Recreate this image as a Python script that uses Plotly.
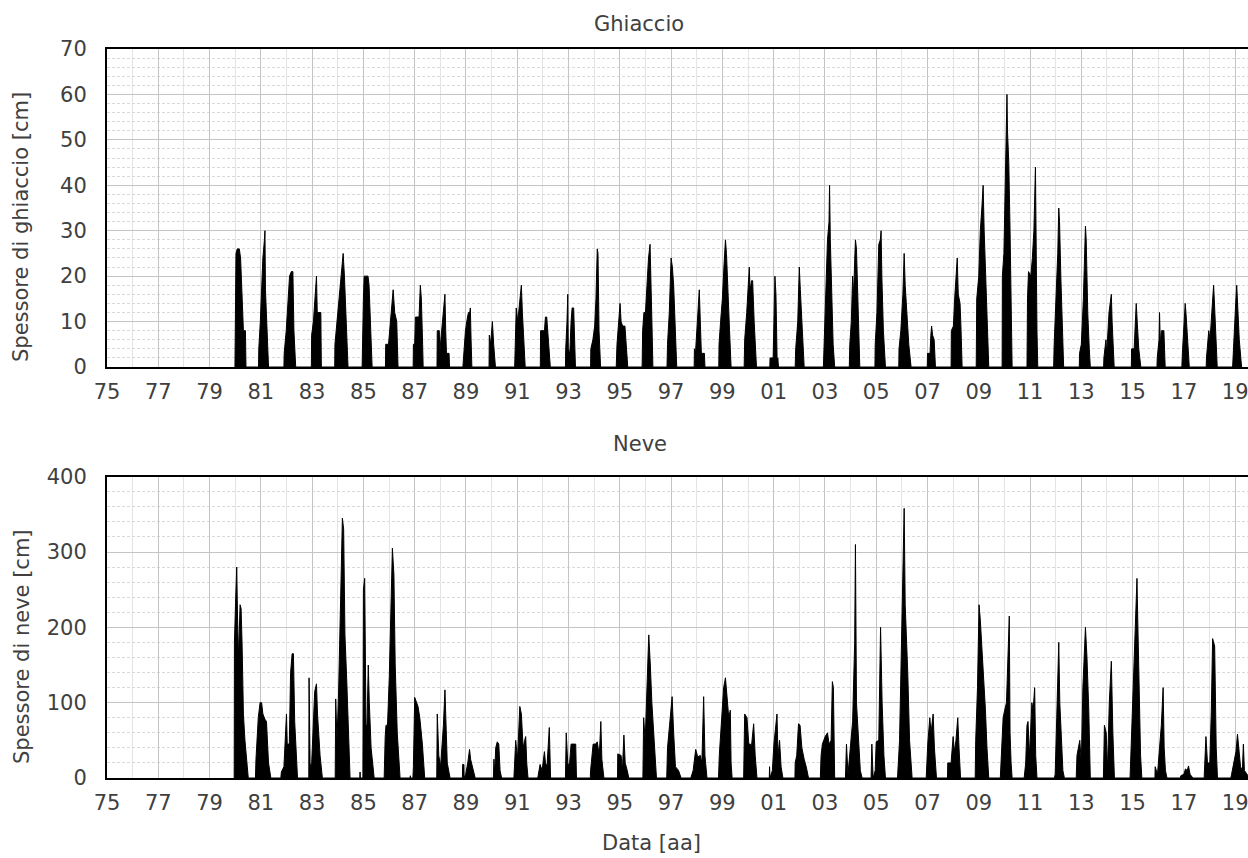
import plotly.graph_objects as go

# ---------------- data (decimal years, cm) ----------------
year_ticks = [1975, 1977, 1979, 1981, 1983, 1985, 1987, 1989, 1991, 1993, 1995, 1997,
              1999, 2001, 2003, 2005, 2007, 2009, 2011, 2013, 2015, 2017, 2019]
year_labels = ["75", "77", "79", "81", "83", "85", "87", "89", "91", "93", "95", "97",
               "99", "01", "03", "05", "07", "09", "11", "13", "15", "17", "19"]

ice_x = [
    1979.99, 1980.00, 1980.03, 1980.08, 1980.16, 1980.21, 1980.25, 1980.32, 1980.40, 1980.42,
    1980.91, 1980.92, 1980.98, 1981.02, 1981.08, 1981.14, 1981.16, 1981.18, 1981.22, 1981.30,
    1981.90, 1981.91, 1981.99, 1982.06, 1982.12, 1982.19, 1982.25, 1982.29, 1982.36,
    1982.97, 1982.98, 1983.05, 1983.13, 1983.17, 1983.20, 1983.34, 1983.36,
    1983.88, 1983.89, 1983.97, 1984.07, 1984.14, 1984.21, 1984.26, 1984.31, 1984.37, 1984.40,
    1984.95, 1984.96, 1985.00, 1985.03, 1985.18, 1985.22, 1985.30, 1985.34,
    1985.86, 1985.87, 1985.98, 1986.05, 1986.12, 1986.16, 1986.22, 1986.30, 1986.35,
    1986.94, 1986.95, 1987.00, 1987.03, 1987.17, 1987.22, 1987.26, 1987.31, 1987.33,
    1987.87, 1987.88, 1987.96, 1987.98, 1988.02, 1988.10, 1988.18, 1988.21, 1988.24, 1988.34, 1988.36,
    1988.88, 1988.92, 1988.98, 1989.06, 1989.10, 1989.15, 1989.17, 1989.20, 1989.23,
    1989.90, 1989.91, 1989.96, 1990.03, 1990.08, 1990.15,
    1990.90, 1990.92, 1990.96, 1991.02, 1991.10, 1991.16, 1991.20, 1991.26, 1991.31,
    1991.90, 1991.91, 1992.06, 1992.10, 1992.15, 1992.22, 1992.29,
    1992.88, 1992.89, 1992.94, 1992.97, 1992.99, 1993.05, 1993.10, 1993.14, 1993.20, 1993.24, 1993.27,
    1993.86, 1993.87, 1993.95, 1994.02, 1994.07, 1994.12, 1994.15, 1994.19, 1994.25,
    1994.86, 1994.89, 1994.96, 1995.01, 1995.05, 1995.11, 1995.20, 1995.26, 1995.31,
    1995.87, 1995.89, 1995.94, 1996.00, 1996.06, 1996.12, 1996.18, 1996.22, 1996.26, 1996.29,
    1996.84, 1996.86, 1996.93, 1997.00, 1997.05, 1997.10, 1997.17, 1997.22,
    1997.90, 1997.91, 1997.95, 1998.02, 1998.10, 1998.14, 1998.18, 1998.30, 1998.32,
    1998.86, 1998.87, 1998.93, 1999.00, 1999.06, 1999.12, 1999.16, 1999.22, 1999.28, 1999.34,
    1999.85, 1999.87, 1999.95, 2000.05, 2000.08, 2000.14, 2000.18, 2000.24, 2000.33,
    2000.85, 2000.86, 2000.98, 2001.00, 2001.05, 2001.09, 2001.12, 2001.14, 2001.16, 2001.19,
    2001.84, 2001.86, 2001.94, 2002.00, 2002.04, 2002.10, 2002.19,
    2002.94, 2002.96, 2003.02, 2003.10, 2003.16, 2003.18, 2003.21, 2003.26, 2003.32, 2003.38,
    2003.95, 2003.97, 2004.03, 2004.08, 2004.12, 2004.17, 2004.19, 2004.23, 2004.28, 2004.32, 2004.36,
    2004.95, 2004.96, 2005.03, 2005.10, 2005.16, 2005.19, 2005.22, 2005.28, 2005.36,
    2005.88, 2005.89, 2005.96, 2006.04, 2006.09, 2006.13, 2006.19, 2006.27, 2006.36,
    2006.99, 2007.00, 2007.10, 2007.13, 2007.16, 2007.20, 2007.26, 2007.31,
    2007.92, 2007.93, 2008.01, 2008.06, 2008.13, 2008.16, 2008.20, 2008.27, 2008.31, 2008.35,
    2008.90, 2008.92, 2009.00, 2009.06, 2009.12, 2009.17, 2009.21, 2009.27, 2009.33, 2009.39,
    2009.91, 2009.92, 2009.98, 2010.05, 2010.10, 2010.12, 2010.17, 2010.22, 2010.27, 2010.30,
    2010.88, 2010.90, 2010.94, 2011.03, 2011.09, 2011.15, 2011.21, 2011.24, 2011.27, 2011.30,
    2011.92, 2011.94, 2012.02, 2012.08, 2012.12, 2012.15, 2012.20, 2012.26, 2012.31,
    2012.92, 2012.93, 2013.00, 2013.08, 2013.13, 2013.16, 2013.19, 2013.25, 2013.31, 2013.35,
    2013.87, 2013.88, 2013.96, 2013.99, 2014.08, 2014.17, 2014.20, 2014.25, 2014.28,
    2014.95, 2014.96, 2015.06, 2015.10, 2015.14, 2015.18, 2015.24, 2015.32,
    2015.95, 2015.96, 2016.03, 2016.05, 2016.08, 2016.12, 2016.22, 2016.27,
    2016.92, 2016.94, 2017.00, 2017.05, 2017.08, 2017.14, 2017.21,
    2017.87, 2017.88, 2017.97, 2018.02, 2018.10, 2018.16, 2018.20, 2018.26, 2018.30,
    2018.90, 2018.92, 2018.97, 2019.02, 2019.06, 2019.10, 2019.16, 2019.25,
]
ice_y = [
    0, 8, 25, 26, 26, 24, 18, 8, 8, 0,
    0, 4, 10, 17, 24, 28, 30, 17, 12, 0,
    0, 3, 8, 16, 20, 21, 21, 8, 0,
    0, 7, 10, 16, 20, 12, 12, 0,
    0, 5, 10, 15, 20, 25, 20, 12, 5, 0,
    0, 5, 15, 20, 20, 18, 8, 0,
    0, 5, 5, 10, 15, 17, 12, 10, 0,
    0, 5, 5, 11, 11, 18, 15, 5, 0,
    0, 8, 8, 3, 6, 12, 16, 8, 3, 3, 0,
    0, 4, 8, 11, 12, 12, 13, 6, 0,
    0, 7, 5, 10, 5, 0,
    0, 5, 13, 10, 15, 18, 12, 5, 0,
    0, 8, 8, 11, 11, 6, 0,
    0, 4, 10, 16, 4, 3, 10, 13, 13, 2, 0,
    0, 4, 6, 9, 15, 26, 25, 8, 0,
    0, 5, 10, 14, 10, 9, 9, 4, 0,
    0, 8, 12, 12, 18, 24, 27, 20, 8, 0,
    0, 5, 12, 24, 22, 18, 8, 0,
    0, 4, 3, 10, 17, 10, 3, 3, 0,
    0, 5, 10, 15, 22, 28, 25, 15, 8, 0,
    0, 6, 12, 22, 17, 19, 19, 10, 0,
    0, 2, 2, 10, 20, 16, 5, 0, 2, 0,
    0, 4, 10, 22, 17, 10, 0,
    0, 3, 15, 28, 32, 40, 28, 15, 5, 0,
    0, 5, 10, 20, 16, 25, 28, 26, 15, 6, 0,
    0, 5, 12, 27, 28, 30, 20, 8, 0,
    0, 4, 8, 16, 25, 18, 12, 5, 0,
    0, 3, 3, 7, 9, 7, 6, 0,
    0, 8, 9, 15, 22, 24, 16, 14, 8, 0,
    0, 15, 20, 30, 35, 40, 30, 20, 10, 0,
    0, 20, 25, 45, 60, 52, 45, 30, 12, 0,
    0, 15, 21, 20, 24, 30, 44, 20, 8, 0,
    0, 5, 15, 25, 35, 32, 20, 10, 0,
    0, 3, 5, 15, 25, 31, 28, 12, 4, 0,
    0, 2, 6, 3, 12, 16, 10, 4, 0,
    0, 4, 4, 10, 14, 10, 4, 0,
    0, 2, 6, 12, 5, 8, 8, 0,
    0, 3, 8, 14, 12, 5, 0,
    0, 2, 8, 6, 13, 18, 13, 5, 0,
    0, 3, 8, 14, 18, 14, 6, 0,
]

snow_x = [
    1979.96, 1979.97, 1980.02, 1980.06, 1980.09, 1980.13, 1980.19, 1980.23, 1980.27, 1980.32, 1980.38, 1980.45, 1980.51,
    1980.79, 1980.81, 1980.90, 1980.97, 1981.03, 1981.08, 1981.16, 1981.22, 1981.30, 1981.39,
    1981.78, 1981.80, 1981.90, 1982.00, 1982.03, 1982.11, 1982.16, 1982.22, 1982.27, 1982.32, 1982.43,
    1982.82, 1982.87, 1982.88, 1982.92, 1982.97, 1983.10, 1983.17, 1983.21, 1983.31, 1983.40,
    1983.90, 1983.92, 1983.97, 1984.03, 1984.11, 1984.18, 1984.23, 1984.28, 1984.35, 1984.42, 1984.48,
    1984.86, 1984.87, 1984.88, 1984.98, 1985.00, 1985.05, 1985.10, 1985.14, 1985.19, 1985.23, 1985.30, 1985.42,
    1985.81, 1985.85, 1985.88, 1985.94, 1986.01, 1986.13, 1986.19, 1986.24, 1986.32, 1986.43,
    1986.82, 1986.83, 1986.84, 1986.93, 1986.95, 1987.00, 1987.06, 1987.13, 1987.20, 1987.30, 1987.39,
    1987.86, 1987.88, 1987.94, 1988.01, 1988.12, 1988.18, 1988.22, 1988.27, 1988.38,
    1988.86, 1988.87, 1988.92, 1988.93, 1988.99, 1989.07, 1989.14, 1989.18, 1989.25, 1989.36,
    1990.07, 1990.09, 1990.12, 1990.16, 1990.22, 1990.28, 1990.33, 1990.39,
    1990.87, 1990.90, 1990.94, 1991.01, 1991.10, 1991.16, 1991.23, 1991.29, 1991.33, 1991.37, 1991.42,
    1991.80, 1991.83, 1991.89, 1991.97, 1992.06, 1992.10, 1992.16, 1992.25, 1992.27, 1992.30,
    1992.88, 1992.91, 1992.97, 1993.03, 1993.10, 1993.28, 1993.31,
    1993.85, 1993.86, 1993.96, 1994.06, 1994.12, 1994.20, 1994.26, 1994.30, 1994.38,
    1994.91, 1994.92, 1995.05, 1995.10, 1995.16, 1995.21, 1995.29, 1995.35,
    1995.90, 1995.93, 1995.99, 1996.07, 1996.13, 1996.19, 1996.25, 1996.34, 1996.43,
    1996.83, 1996.86, 1996.94, 1997.04, 1997.10, 1997.17, 1997.29, 1997.39,
    1997.77, 1997.86, 1997.96, 1998.04, 1998.14, 1998.20, 1998.27, 1998.32, 1998.40,
    1998.85, 1998.88, 1998.97, 1999.05, 1999.12, 1999.18, 1999.25, 1999.31, 1999.34, 1999.38,
    1999.83, 1999.87, 1999.96, 2000.03, 2000.09, 2000.13, 2000.22, 2000.28, 2000.35,
    2000.83, 2000.84, 2000.86, 2000.95, 2001.01, 2001.13, 2001.17, 2001.23, 2001.29, 2001.36,
    2001.83, 2001.84, 2001.90, 2001.97, 2002.03, 2002.10, 2002.19, 2002.27, 2002.36,
    2002.82, 2002.85, 2002.90, 2003.01, 2003.10, 2003.16, 2003.24, 2003.29, 2003.33, 2003.38,
    2003.80, 2003.84, 2003.90, 2003.99, 2004.08, 2004.16, 2004.19, 2004.23, 2004.30, 2004.38, 2004.45,
    2004.80, 2004.83, 2004.88, 2004.96, 2005.00, 2005.10, 2005.17, 2005.23, 2005.30, 2005.36,
    2005.83, 2005.91, 2006.00, 2006.09, 2006.13, 2006.17, 2006.23, 2006.30, 2006.40,
    2006.95, 2007.01, 2007.09, 2007.14, 2007.22, 2007.27, 2007.35,
    2007.78, 2007.79, 2007.92, 2008.00, 2008.05, 2008.11, 2008.18, 2008.23, 2008.29,
    2008.86, 2008.88, 2008.95, 2009.01, 2009.06, 2009.13, 2009.19, 2009.26, 2009.32, 2009.39,
    2009.84, 2009.88, 2009.95, 2010.01, 2010.08, 2010.19, 2010.22, 2010.26, 2010.30,
    2010.77, 2010.83, 2010.88, 2010.92, 2010.98, 2011.07, 2011.12, 2011.18, 2011.22, 2011.27,
    2011.95, 2011.98, 2012.04, 2012.12, 2012.16, 2012.23, 2012.28, 2012.34,
    2012.80, 2012.83, 2012.94, 2013.00, 2013.06, 2013.16, 2013.22, 2013.29, 2013.35,
    2013.86, 2013.90, 2013.97, 2014.02, 2014.09, 2014.17, 2014.23, 2014.29,
    2014.90, 2014.93, 2015.00, 2015.10, 2015.17, 2015.20, 2015.25, 2015.31, 2015.36,
    2015.87, 2015.88, 2015.97, 2016.05, 2016.12, 2016.19, 2016.23, 2016.28, 2016.34,
    2016.86, 2016.88, 2017.00, 2017.06, 2017.13, 2017.18, 2017.24, 2017.35,
    2017.79, 2017.83, 2017.86, 2017.92, 2018.01, 2018.07, 2018.12, 2018.20, 2018.26, 2018.31,
    2018.83, 2018.86, 2018.95, 2019.03, 2019.09, 2019.15, 2019.21, 2019.28, 2019.32, 2019.36, 2019.45, 2019.50,
]
snow_y = [
    0, 180, 240, 280, 215, 160, 230, 225, 175, 85, 50, 20, 0,
    0, 25, 80, 100, 100, 85, 78, 75, 20, 0,
    0, 8, 15, 85, 45, 45, 140, 165, 165, 75, 0,
    0, 0, 133, 20, 10, 115, 125, 85, 30, 0,
    0, 105, 50, 110, 235, 345, 330, 190, 130, 40, 0,
    0, 8, 0, 0, 250, 265, 70, 70, 150, 100, 40, 0,
    0, 55, 70, 70, 135, 305, 270, 150, 60, 0,
    0, 3, 0, 0, 15, 107, 102, 95, 80, 45, 0,
    0, 85, 30, 15, 70, 117, 80, 20, 0,
    0, 18, 18, 0, 5, 20, 38, 25, 15, 0,
    0, 25, 5, 40, 48, 45, 10, 0,
    0, 20, 50, 25, 95, 85, 40, 50, 55, 20, 0,
    0, 5, 18, 10, 35, 20, 15, 67, 10, 0,
    0, 60, 20, 15, 45, 45, 0,
    0, 10, 45, 45, 48, 30, 75, 25, 0,
    0, 32, 30, 10, 57, 20, 10, 0,
    0, 80, 50, 150, 190, 150, 100, 50, 0,
    0, 40, 70, 108, 60, 15, 10, 0,
    0, 10, 38, 28, 30, 20, 108, 30, 0,
    0, 30, 80, 120, 133, 110, 80, 90, 20, 0,
    0, 85, 80, 45, 45, 40, 72, 30, 0,
    0, 15, 0, 10, 45, 85, 30, 50, 15, 0,
    0, 20, 30, 72, 70, 40, 25, 15, 0,
    0, 30, 45, 55, 60, 45, 50, 128, 120, 0,
    0, 45, 5, 40, 75, 180, 310, 100, 60, 10, 0,
    0, 45, 0, 10, 48, 50, 200, 100, 30, 0,
    0, 50, 200, 358, 230, 195, 140, 50, 0,
    0, 45, 80, 60, 85, 40, 0,
    0, 20, 20, 55, 35, 50, 80, 40, 0,
    0, 50, 120, 230, 210, 170, 140, 90, 40, 0,
    0, 30, 80, 90, 100, 215, 60, 20, 0,
    0, 20, 70, 75, 30, 100, 90, 120, 30, 0,
    0, 5, 80, 180, 100, 40, 10, 0,
    0, 30, 50, 20, 120, 200, 160, 90, 0,
    0, 70, 60, 10, 100, 155, 60, 0,
    0, 30, 80, 200, 265, 210, 100, 30, 0,
    0, 15, 5, 40, 70, 120, 40, 10, 0,
    0, 3, 5, 12, 10, 16, 5, 0,
    0, 30, 55, 20, 20, 90, 185, 175, 40, 0,
    0, 5, 20, 35, 58, 40, 15, 10, 45, 10, 5, 3,
]

ice_yticks = [0, 10, 20, 30, 40, 50, 60, 70]
snow_yticks = [0, 100, 200, 300, 400]

# ---------------- layout helpers (page pixel -> paper) ----------------
W, H = 1248, 858
ML, MR, MT, MB = 107, 0, 49, 80
PW, PH = W - ML - MR, H - MT - MB


def px(x):
    return (x - ML) / PW


def py(y):
    return (H - MB - y) / PH


TXT = "#404040"
FONT = "DejaVu Sans"
FS = 21
MAJ = "#c4c4c4"
MIN_V = "#e4e4e4"
MIN_H = "#d9d9d9"

fig = go.Figure()
fig.add_trace(go.Scatter(x=ice_x, y=ice_y, mode="lines", fill="tozeroy",
                         line=dict(color="black", width=1), fillcolor="black",
                         xaxis="x", yaxis="y", showlegend=False, hoverinfo="skip"))
fig.add_trace(go.Scatter(x=snow_x, y=snow_y, mode="lines", fill="tozeroy",
                         line=dict(color="black", width=1), fillcolor="black",
                         xaxis="x2", yaxis="y2", showlegend=False, hoverinfo="skip"))

tfont = dict(family=FONT, size=FS, color=TXT)
xcommon = dict(
    range=[1975, 2019.5], tickmode="array", tickvals=year_ticks, ticktext=year_labels,
    showgrid=True, gridcolor=MAJ, gridwidth=1,
    minor=dict(tickmode="linear", tick0=1975, dtick=1, showgrid=True, gridcolor=MIN_V, gridwidth=1),
    showline=True, linecolor="black", linewidth=2, mirror=True,
    ticks="", zeroline=False, tickfont=tfont, ticklabeloverflow="allow",
    ticklabelstandoff=5, fixedrange=True,
)
ycommon = dict(
    showgrid=True, gridcolor=MAJ, gridwidth=1,
    showline=True, linecolor="black", linewidth=2, mirror=False,
    ticks="", zeroline=False, tickfont=tfont,
    ticklabelstandoff=14, fixedrange=True,
)

fig.update_layout(
    width=W, height=H,
    margin=dict(l=ML, r=MR, t=MT, b=MB),
    paper_bgcolor="white", plot_bgcolor="white",
    xaxis=dict(domain=[0, 1], anchor="y", **xcommon),
    yaxis=dict(domain=[py(367), 1], anchor="x", range=[0, 70], tickmode="array",
               tickvals=ice_yticks,
               minor=dict(tickmode="linear", tick0=0, dtick=2, showgrid=True,
                          gridcolor=MIN_H, griddash="3px,2px", gridwidth=1),
               **ycommon),
    xaxis2=dict(domain=[0, 1], anchor="y2", **xcommon),
    yaxis2=dict(domain=[0, py(476.7)], anchor="x2", range=[0, 400], tickmode="array",
                tickvals=snow_yticks,
                minor=dict(tickmode="linear", tick0=0, dtick=20, showgrid=True,
                           gridcolor=MIN_H, griddash="3px,2px", gridwidth=1),
                **ycommon),
)

annotations = [
    dict(text="Ghiaccio", x=px(639), y=py(24)),
    dict(text="Neve", x=px(640), y=py(444)),
    dict(text="Data [aa]", x=px(651), y=py(843)),
    dict(text="Spessore di ghiaccio [cm]", x=px(21), y=py(227), textangle=-90),
    dict(text="Spessore di neve [cm]", x=px(22), y=py(647), textangle=-90),
]
for a in annotations:
    fig.add_annotation(xref="paper", yref="paper", showarrow=False,
                       xanchor="center", yanchor="middle", font=tfont, **a)

# remove the default page margin so the 1248x858 figure fills the window exactly
fig.write_html("out.html",
               config={"displayModeBar": False},
               post_script="document.body.style.margin='0';document.body.style.overflow='hidden';")
